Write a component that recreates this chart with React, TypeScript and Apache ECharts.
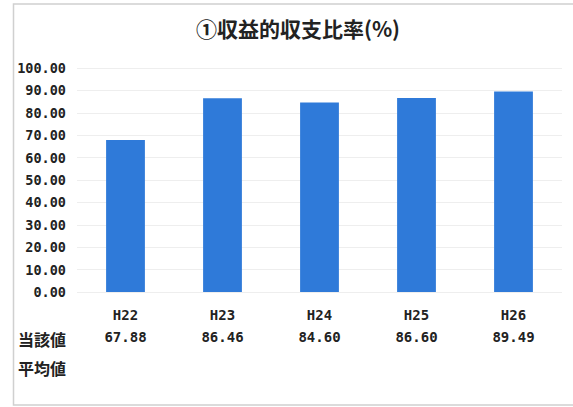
import React, { useEffect, useRef } from "react";
import * as echarts from "echarts";

const titleText = "①収益的収支比率(%)";
const categories = ["H22", "H23", "H24", "H25", "H26"];
const values = [67.88, 86.46, 84.6, 86.6, 89.49];
const rowLabels = ["当該値", "平均値"];
const yMin = 0;
const yMax = 100;
const yInterval = 10;

const JP = "'Noto Sans CJK JP', sans-serif";
const MONO = "'DejaVu Sans Mono', monospace";
const TEXT = "#222222";

export default function App() {
  const ref = useRef<HTMLDivElement>(null);
  useEffect(() => {
    if (!ref.current) return;
    const chart = echarts.init(ref.current, null, { renderer: "svg" });
    chart.setOption({
      animation: false,
      backgroundColor: "#ffffff",
      title: {
        text: titleText,
        left: 293,
        top: 12,
        textAlign: "center",
        textStyle: { fontFamily: JP, fontSize: 21, fontWeight: "bold", color: TEXT },
      },
      grid: { left: 77, right: 11, top: 68, bottom: 115, containLabel: false },
      xAxis: {
        type: "category",
        data: categories,
        axisLine: { show: false },
        axisTick: { show: false },
        axisLabel: {
          margin: 12,
          interval: 0,
          formatter: (v: string, i: number) => `{c|${v}}\n{v|${values[i].toFixed(2)}}`,
          rich: {
            c: { fontFamily: MONO, fontSize: 14, fontWeight: "bold", color: TEXT, lineHeight: 22 },
            v: { fontFamily: MONO, fontSize: 14, fontWeight: "bold", color: TEXT, lineHeight: 22 },
          },
        },
      },
      yAxis: {
        type: "value",
        min: yMin,
        max: yMax,
        interval: yInterval,
        axisLine: { show: false },
        axisTick: { show: false },
        splitLine: { show: true, lineStyle: { color: "#eeeeee", width: 1 } },
        axisLabel: {
          margin: 11,
          formatter: (v: number) => v.toFixed(2),
          fontFamily: MONO,
          fontSize: 13.5,
          fontWeight: "bold",
          color: TEXT,
        },
      },
      series: [
        {
          type: "bar",
          data: values,
          barWidth: "40%",
          itemStyle: { color: "#2f7ad9" },
        },
      ],
      graphic: [
        {
          type: "rect",
          shape: { x: 13.5, y: 4, width: 600, height: 401 },
          style: { fill: "none", stroke: "#d0d0d0", lineWidth: 1.5 },
          silent: true,
        },
        {
          type: "text",
          x: 18,
          y: 338.5,
          style: {
            text: rowLabels[0],
            fontFamily: JP,
            fontSize: 16,
            fontWeight: "bold",
            fill: TEXT,
            verticalAlign: "middle",
          },
        },
        {
          type: "text",
          x: 18,
          y: 367.5,
          style: {
            text: rowLabels[1],
            fontFamily: JP,
            fontSize: 16,
            fontWeight: "bold",
            fill: TEXT,
            verticalAlign: "middle",
          },
        },
      ],
    });
    return () => chart.dispose();
  }, []);
  return (
    <div
      ref={ref}
      style={{ position: "absolute", left: 0, top: 0, width: 573, height: 407 }}
    />
  );
}
